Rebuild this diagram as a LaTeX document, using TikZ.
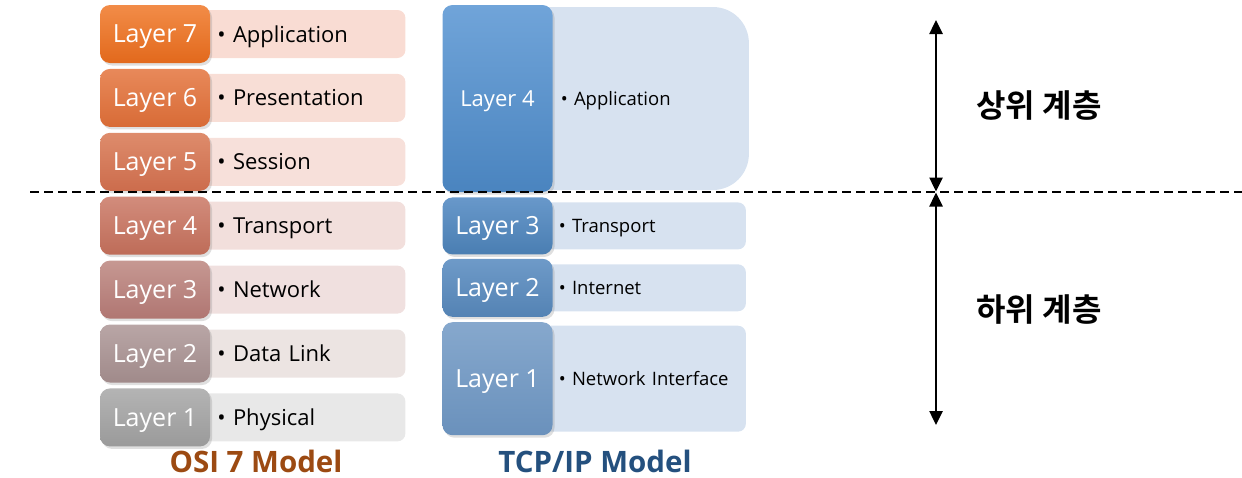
\documentclass[tikz,border=0pt]{standalone}
\usepackage{fontspec}
\setmainfont{Open Sans}
\newfontfamily\kofont{Noto Sans CJK KR}[BoldFont={Noto Sans CJK KR Bold}]
\usetikzlibrary{shapes,arrows.meta,positioning,calc,shadows}
\usepackage{xcolor}
\pgfdeclarelayer{background}
\pgfsetlayers{background,main}

\definecolor{osiSevenT}{HTML}{F28C48}\definecolor{osiSevenB}{HTML}{E2691C}
\definecolor{osiSixT}{HTML}{E8895A}\definecolor{osiSixB}{HTML}{D86B36}
\definecolor{osiFiveT}{HTML}{DE8C6C}\definecolor{osiFiveB}{HTML}{CC6C4C}
\definecolor{osiFourT}{HTML}{D28C7C}\definecolor{osiFourB}{HTML}{BE6C58}
\definecolor{osiThreeT}{HTML}{C69892}\definecolor{osiThreeB}{HTML}{B07672}
\definecolor{osiTwoT}{HTML}{B9A6A6}\definecolor{osiTwoB}{HTML}{A08A8A}
\definecolor{osiOneT}{HTML}{B4B4B4}\definecolor{osiOneB}{HTML}{9A9A9A}
\definecolor{paleSeven}{HTML}{F9DCD3}\definecolor{paleSix}{HTML}{F8DED6}
\definecolor{paleFive}{HTML}{F7E0DA}\definecolor{paleFour}{HTML}{F2DFDC}
\definecolor{paleThree}{HTML}{F0E0DF}\definecolor{paleTwo}{HTML}{ECE4E2}
\definecolor{paleOne}{HTML}{E8E8E8}
\definecolor{tcpFourT}{HTML}{70A4D9}\definecolor{tcpFourB}{HTML}{4A84BF}
\definecolor{tcpThreeT}{HTML}{6898CA}\definecolor{tcpThreeB}{HTML}{4A7EB2}
\definecolor{tcpTwoT}{HTML}{6E9AC8}\definecolor{tcpTwoB}{HTML}{5483B4}
\definecolor{tcpOneT}{HTML}{86A8CD}\definecolor{tcpOneB}{HTML}{6A91BC}
\definecolor{tcplight}{HTML}{D7E2F0}
\definecolor{osibrown}{HTML}{9C4A12}
\definecolor{tcpnavy}{HTML}{24507E}

\begin{document}
\begin{tikzpicture}[x=1pt,y=1pt,node distance=5.5pt]
\tikzstyle{layerbox} = [rectangle, rounded corners=10pt, minimum width=110pt, minimum height=58pt, text=white, text depth=0pt, font=\fontsize{25}{29}\selectfont, drop shadow={shadow xshift=2pt,shadow yshift=-2.5pt,opacity=0.25}]
\tikzstyle{osidesc} = [rectangle, rounded corners=8pt, minimum height=48pt, text width=171pt, inner xsep=17pt, align=left, text depth=0pt, font=\fontsize{22}{26}\selectfont]
\tikzstyle{tcpdesc} = [rectangle, rounded corners=8pt, fill=tcplight, text width=171pt, inner xsep=16pt, align=left, text depth=0pt, font=\fontsize{18.5}{22}\selectfont]
\tikzstyle{title} = [font=\bfseries\fontsize{29.5}{33}\selectfont]
\tikzstyle{korean} = [font=\kofont\bfseries\fontsize{32}{36}\selectfont]
\tikzstyle{arrow} = [line width=2.5pt, {Triangle[width=13pt,length=14pt]}-{Triangle[width=13pt,length=14pt]}]

\useasboundingbox (0,0) rectangle (1242,-477);

\node (l7) [layerbox, top color=osiSevenT, bottom color=osiSevenB] at (155,-34) {Layer 7};
\node (l6) [layerbox, top color=osiSixT, bottom color=osiSixB, below=of l7] {Layer 6};
\node (l5) [layerbox, top color=osiFiveT, bottom color=osiFiveB, below=of l6] {Layer 5};
\node (l4) [layerbox, top color=osiFourT, bottom color=osiFourB, below=of l5] {Layer 4};
\node (l3) [layerbox, top color=osiThreeT, bottom color=osiThreeB, below=of l4] {Layer 3};
\node (l2) [layerbox, top color=osiTwoT, bottom color=osiTwoB, below=of l3] {Layer 2};
\node (l1) [layerbox, top color=osiOneT, bottom color=osiOneB, below=of l2] {Layer 1};

\node (t4) [layerbox, minimum height=187pt, font=\fontsize{22}{26}\selectfont, top color=tcpFourT, bottom color=tcpFourB] at (497.5,-98.5) {Layer 4};
\node (t3) [layerbox, minimum height=57pt, top color=tcpThreeT, bottom color=tcpThreeB, below=5pt of t4] {Layer 3};
\node (t2) [layerbox, top color=tcpTwoT, bottom color=tcpTwoB, below=4pt of t3] {Layer 2};
\node (t1) [layerbox, minimum height=113pt, top color=tcpOneT, bottom color=tcpOneB, below=5pt of t2] {Layer 1};

\begin{pgfonlayer}{background}
\node (app) [osidesc, fill=paleSeven, right=-10pt of l7] {• Application};
\node (pres) [osidesc, fill=paleSix, right=-10pt of l6] {• Presentation};
\node (sess) [osidesc, fill=paleFive, right=-10pt of l5] {• Session};
\node (trans) [osidesc, fill=paleFour, right=-10pt of l4] {• Transport};
\node (net) [osidesc, fill=paleThree, right=-10pt of l3] {• Network};
\node (link) [osidesc, fill=paleTwo, right=-10pt of l2] {• Data Link};
\node (phys) [osidesc, fill=paleOne, right=-10pt of l1] {• Physical};

\node (tapp) [tcpdesc, rounded corners=36pt, minimum height=183pt, text width=128pt, inner xsep=60pt, right=-52pt of t4] {• Application};
\node (ttrans) [tcpdesc, minimum height=47pt, right=-10pt of t3] {• Transport};
\node (tinet) [tcpdesc, minimum height=47pt, right=-10pt of t2] {• Internet};
\node (tnet) [tcpdesc, minimum height=106pt, right=-10pt of t1] {• Network Interface};
\end{pgfonlayer}

\node (osi) [title, text=osibrown] at (256,-461) {OSI 7 Model};
\node (tcp) [title, text=tcpnavy] at (595,-461) {TCP/IP Model};

\coordinate (dashL) at (30,-192);
\coordinate (dashR) at (1242,-192);
\draw [line width=2.5pt, dash pattern=on 9pt off 5pt] (dashL) -- (dashR);

\coordinate (uptop) at (936,-20);
\coordinate (split) at (936,-192);
\coordinate (lowbot) at (936,-425);
\draw [arrow, shorten >=0.5pt] (uptop) -- (split);
\draw [arrow, shorten <=0.5pt] (split) -- (lowbot);

\node (upper) [korean] at (1039,-106) {상위 계층};
\node (lower) [korean] at (1039,-310) {하위 계층};

\end{tikzpicture}
\end{document}
